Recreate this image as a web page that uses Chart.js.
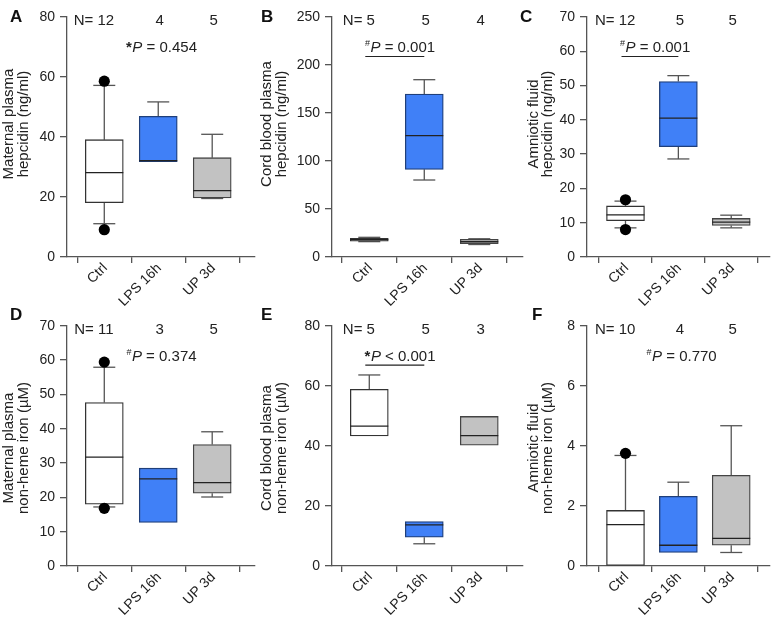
<!DOCTYPE html>
<html><head><meta charset="utf-8">
<script src="https://cdn.jsdelivr.net/npm/chart.js@4.4.0/dist/chart.umd.min.js"></script>
<style>
html,body{margin:0;padding:0;background:#fff;}
body{width:775px;height:618px;position:relative;overflow:hidden;}
canvas{position:absolute;}
</style></head><body>
<canvas id="cA"></canvas><canvas id="cB"></canvas><canvas id="cC"></canvas>
<canvas id="cD"></canvas><canvas id="cE"></canvas><canvas id="cF"></canvas>
<script>
// ---------- DATA ----------
const categories = ['Ctrl', 'LPS 16h', 'UP 3d'];
// box statistics per group: [min, q1, median, q3, max]
const maternalHepcidin = [[11.1, 18.1, 28.1, 39.1, 57.2], [31.8, 31.8, 32.1, 46.9, 51.7], [19.5, 19.7, 22.1, 33.1, 40.9]];
const cordHepcidin     = [[16.0, 16.5, 18.0, 19.5, 20.5], [80.2, 91.3, 126.4, 169.8, 184.7], [13.0, 14.0, 16.0, 18.4, 19.0]];
const amnioticHepcidin = [[8.5, 10.6, 12.3, 14.9, 16.3], [28.6, 32.2, 40.5, 51.2, 52.9], [8.5, 9.2, 10.2, 11.25, 12.2]];
const maternalIron     = [[17.2, 18.0, 31.7, 47.6, 57.9], [12.7, 12.7, 25.4, 28.5, 28.5], [20.1, 21.2, 24.3, 35.4, 39.1]];
const cordIron         = [[43.3, 43.3, 46.6, 58.8, 63.6], [7.4, 9.6, 13.7, 14.8, 14.8], [40.2, 40.2, 43.4, 49.8, 49.8]];
const amnioticIron     = [[0, 0, 1.38, 1.85, 3.68], [0.45, 0.45, 0.69, 2.32, 2.79], [0.45, 0.69, 0.92, 3.02, 4.67]];
// outlier points (Ctrl group)
const maternalHepcidinOut = [58.6, 9.1];
const amnioticHepcidinOut = [16.7, 8.0];
const maternalIronOut = [59.4, 16.8];
const amnioticIronOut = [3.75];
// group sizes
const nA = [12, 4, 5], nB = [5, 5, 4], nC = [12, 5, 5];
const nD = [11, 3, 5], nE = [5, 5, 3], nF = [10, 4, 5];
// y-axis ranges [max, step]
const yA = [80, 20], yB = [250, 50], yC = [70, 10], yD = [70, 10], yE = [80, 20], yF = [8, 2];
// axis titles
const titleA = ['Maternal plasma', 'hepcidin (ng/ml)'];
const titleB = ['Cord blood plasma', 'hepcidin (ng/ml)'];
const titleC = ['Amniotic fluid', 'hepcidin (ng/ml)'];
const titleD = ['Maternal plasma', 'non-heme iron (µM)'];
const titleE = ['Cord blood plasma', 'non-heme iron (µM)'];
const titleF = ['Amniotic fluid', 'non-heme iron (µM)'];
// P-value labels [symbol, text]
const pA = ['*', ' = 0.454'], pB = ['#', ' = 0.001'], pC = ['#', ' = 0.001'];
const pD = ['#', ' = 0.374'], pE = ['*', ' < 0.001'], pF = ['#', ' = 0.770'];

// ---------- STYLE / LAYOUT ----------
const FONT = "'Liberation Sans', Arial, sans-serif";
Chart.defaults.font.family = FONT;
Chart.defaults.font.size = 14;
Chart.defaults.color = '#222';
const boxColors = ['#ffffff', '#4080f7', '#c2c2c2'];
const axisColor = '#555';

const rowTop = {top: 0, height: 310, padTop: 17, xH: 53, titleY: 124, letterY: 17};
const rowBot = {top: 305, height: 313, padTop: 20.7, xH: 52, titleY: 143, letterY: 10};

const panels = [
  {id: 'cA', row: rowTop, left: 0,   width: 260, yW: 67, padR: 2, xMin: 0.309, xMax: 3.782, letterX: 10, titleX: [9, 23.5],
   stats: maternalHepcidin, out: maternalHepcidinOut, n: nA, y: yA, title: titleA, p: pA, pAt: 2, bracket: false, letter: 'A'},
  {id: 'cB', row: rowTop, left: 256, width: 268, yW: 76, padR: 1, xMin: 0.322, xMax: 3.795, letterX: 5, titleX: [11.3, 25.5],
   stats: cordHepcidin, out: [], n: nB, y: yB, title: titleB, p: pB, pAt: 1.5, bracket: true, letter: 'B'},
  {id: 'cC', row: rowTop, left: 510, width: 265, yW: 77, padR: 0, xMin: 0.272, xMax: 3.722, letterX: 10, titleX: [23.7, 37.5],
   stats: amnioticHepcidin, out: amnioticHepcidinOut, n: nC, y: yC, title: titleC, p: pC, pAt: 1.5, bracket: true, letter: 'C'},
  {id: 'cD', row: rowBot, left: 0,   width: 260, yW: 67, padR: 2, xMin: 0.309, xMax: 3.782, letterX: 10, titleX: [9, 23.5],
   stats: maternalIron, out: maternalIronOut, n: nD, y: yD, title: titleD, p: pD, pAt: 2, bracket: false, letter: 'D'},
  {id: 'cE', row: rowBot, left: 256, width: 268, yW: 76, padR: 1, xMin: 0.322, xMax: 3.795, letterX: 5, titleX: [11.3, 25.5],
   stats: cordIron, out: [], n: nE, y: yE, title: titleE, p: pE, pAt: 1.5, bracket: true, letter: 'E'},
  {id: 'cF', row: rowBot, left: 510, width: 265, yW: 77, padR: 0, xMin: 0.272, xMax: 3.722, letterX: 22, titleX: [24, 37.5],
   stats: amnioticIron, out: amnioticIronOut, n: nF, y: yF, title: titleF, p: pF, pAt: 2, bracket: false, letter: 'F'}
];

// whiskers (under boxes) and medians (over boxes)
const boxPlugin = {
  id: 'boxWhiskers',
  beforeDatasetsDraw(chart, args, o) {
    const {ctx, scales: {x, y}} = chart;
    ctx.save();
    ctx.strokeStyle = axisColor; ctx.lineWidth = 1.3;
    o.stats.forEach((s, i) => {
      const cx = x.getPixelForValue(i + 1), h = 11;
      const seg = (a, b, c, d) => { ctx.beginPath(); ctx.moveTo(a, b); ctx.lineTo(c, d); ctx.stroke(); };
      if (s[4] > s[3]) { seg(cx, y.getPixelForValue(s[3]), cx, y.getPixelForValue(s[4])); seg(cx - h, y.getPixelForValue(s[4]), cx + h, y.getPixelForValue(s[4])); }
      if (s[0] < s[1]) { seg(cx, y.getPixelForValue(s[1]), cx, y.getPixelForValue(s[0])); seg(cx - h, y.getPixelForValue(s[0]), cx + h, y.getPixelForValue(s[0])); }
    });
    ctx.restore();
  },
  afterDatasetsDraw(chart, args, o) {
    const {ctx, scales: {x, y}} = chart;
    ctx.save();
    ctx.strokeStyle = '#222'; ctx.lineWidth = 1.3;
    o.stats.forEach((s, i) => {
      const cx = x.getPixelForValue(i + 1), my = y.getPixelForValue(s[2]);
      ctx.beginPath(); ctx.moveTo(cx - 19, my); ctx.lineTo(cx + 19, my); ctx.stroke();
    });
    ctx.restore();
  }
};

// panel letter, axis title, N labels, P label, bracket
const decoPlugin = {
  id: 'deco',
  afterDraw(chart, args, o) {
    const {ctx, chartArea: ca, scales: {x}} = chart;
    ctx.save();
    ctx.fillStyle = '#111';
    ctx.font = 'bold 17px ' + FONT; ctx.textAlign = 'left'; ctx.textBaseline = 'middle';
    ctx.fillText(o.letter, o.letterX, o.letterY);
    ctx.font = '15px ' + FONT; ctx.fillStyle = '#222';
    o.title.forEach((t, i) => {
      ctx.save(); ctx.translate(o.titleX[i], o.titleY); ctx.rotate(-Math.PI / 2);
      ctx.textAlign = 'center'; ctx.textBaseline = 'middle'; ctx.fillText(t, 0, 0); ctx.restore();
    });
    const nY = ca.top + 4;
    ctx.font = '15px ' + FONT; ctx.textBaseline = 'middle';
    o.n.forEach((v, i) => {
      const cx = x.getPixelForValue(i + 1) + 1.5;
      ctx.textAlign = 'center'; ctx.fillText(String(v), cx, nY);
      if (i === 0) { const w = ctx.measureText(String(v)).width; ctx.textAlign = 'right'; ctx.fillText('N= ', cx - w / 2, nY); }
    });
    const pY = ca.top + 31;
    const star = o.p[0] === '*';
    const symF = star ? 'bold 15px ' + FONT : '9px ' + FONT, pF = 'italic 15px ' + FONT, rF = '15px ' + FONT;
    ctx.font = symF; const w1 = ctx.measureText(o.p[0]).width;
    ctx.font = pF; const w2 = ctx.measureText('P').width;
    ctx.font = rF; const w3 = ctx.measureText(o.p[1]).width;
    let px = x.getPixelForValue(o.pAt) + 3 - (w1 + w2 + w3) / 2;
    ctx.textAlign = 'left';
    ctx.font = symF; ctx.fillText(o.p[0], px, star ? pY : pY - 4); px += w1 + 0.5;
    ctx.font = pF; ctx.fillText('P', px, pY); px += w2;
    ctx.font = rF; ctx.fillText(o.p[1], px, pY);
    if (o.bracket) {
      const by = ca.top + 39.5;
      ctx.strokeStyle = '#222'; ctx.lineWidth = 1.2;
      ctx.beginPath(); ctx.moveTo(x.getPixelForValue(1) - 4, by); ctx.lineTo(x.getPixelForValue(2), by); ctx.stroke();
    }
    ctx.restore();
  }
};

panels.forEach(p => {
  const cv = document.getElementById(p.id);
  cv.width = p.width; cv.height = p.row.height;
  cv.style.left = p.left + 'px'; cv.style.top = p.row.top + 'px';
  cv.style.width = p.width + 'px'; cv.style.height = p.row.height + 'px';
  new Chart(cv, {
    type: 'bar',
    data: {
      datasets: [
        {type: 'bar', data: p.stats.map((s, i) => ({x: i + 1, y: [s[1], s[3]]})),
         backgroundColor: boxColors, borderColor: ['#333', '#1f3f7a', '#444'], borderWidth: 1.3,
         borderSkipped: false, barThickness: 38, order: 2},
        {type: 'scatter', data: p.out.map(v => ({x: 1, y: v})),
         backgroundColor: '#000', borderWidth: 0, pointRadius: 5.6, order: 1}
      ]
    },
    options: {
      responsive: false, animation: false, devicePixelRatio: 1,
      layout: {padding: {top: p.row.padTop, right: p.padR, left: 0, bottom: 0}},
      plugins: {
        legend: {display: false}, tooltip: {enabled: false},
        boxWhiskers: {stats: p.stats},
        deco: {letter: p.letter, letterX: p.letterX, letterY: p.row.letterY, title: p.title, titleX: p.titleX,
               titleY: p.row.titleY, n: p.n, p: p.p, pAt: p.pAt, bracket: p.bracket}
      },
      scales: {
        x: {type: 'linear', min: p.xMin, max: p.xMax, offset: false,
            afterBuildTicks: s => { s.ticks = categories.map((c, i) => ({value: i + 1})); },
            afterFit: s => { s.height = p.row.xH; },
            ticks: {callback: v => categories[Math.round(v) - 1], autoSkip: false, minRotation: 45, maxRotation: 45,
                    padding: -3, labelOffset: 1, color: '#222', font: {size: 14}},
            grid: {drawOnChartArea: false, drawTicks: true, tickLength: 6, tickColor: axisColor, lineWidth: 1.3},
            border: {display: true, color: axisColor, width: 1.3}},
        y: {type: 'linear', min: 0, max: p.y[0],
            afterFit: s => { s.width = p.yW; },
            ticks: {stepSize: p.y[1], padding: 5, color: '#222', font: {size: 14}},
            grid: {drawOnChartArea: false, drawTicks: true, tickLength: 7, tickColor: axisColor, lineWidth: 1.3},
            border: {display: true, color: axisColor, width: 1.3}}
      }
    },
    plugins: [boxPlugin, decoPlugin]
  });
});
</script>
</body></html>
